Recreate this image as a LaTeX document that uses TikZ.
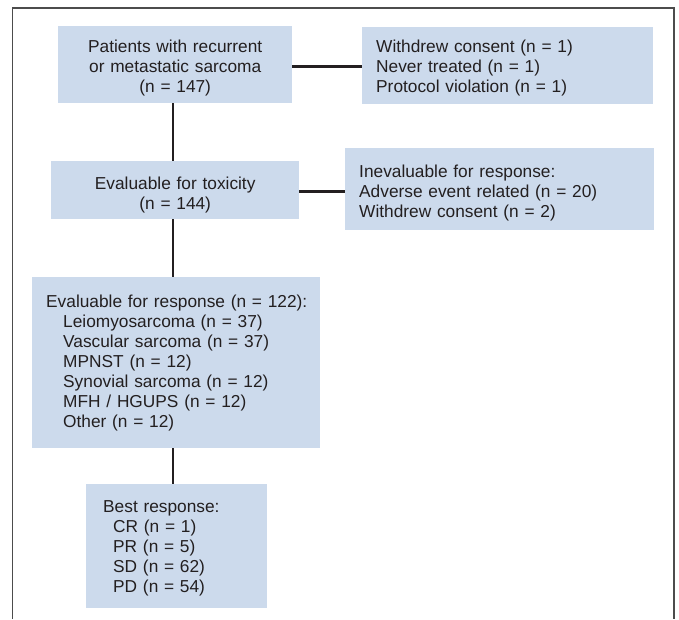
\documentclass[tikz,border=0pt]{standalone}
\usepackage{fontspec}
\setmainfont{Liberation Sans}
\definecolor{boxblue}{RGB}{204,218,236}
\definecolor{ink}{RGB}{35,31,32}
\newcommand{\toppad}[1]{\rule{0pt}{#1}}
\begin{document}
\begin{tikzpicture}[x=1pt,y=-1pt,
  box/.style={fill=boxblue, draw=none, anchor=north west, inner ysep=0pt,
    font=\fontsize{17.3}{20}\selectfont, text=ink},
  cbox/.style={box, align=center, inner xsep=0pt},
  lbox/.style={box, align=left},
  conn/.style={draw=ink, line width=2.8pt},
  frame/.style={draw=black!70, line width=1.8pt}]
\useasboundingbox (0,0) rectangle (679,619);
\draw[frame] (12.5,619) -- (12.5,8) -- (674,8) -- (674,619);

\node[cbox, text width=234pt, minimum height=77pt] (b1) at (58,26)
  {\toppad{19.5pt}Patients with recurrent\\or metastatic sarcoma\\(n = 147)};
\node[lbox, inner xsep=14pt, text width=263pt, minimum height=77pt] (b2) at (362,27)
  {\toppad{17.5pt}Withdrew consent (n = 1)\\Never treated (n = 1)\\Protocol violation (n = 1)};
\node[cbox, text width=248pt, minimum height=58pt] (b3) at (51,161)
  {\toppad{21.5pt}Evaluable for toxicity\\(n = 144)};
\node[lbox, inner xsep=14pt, text width=281pt, minimum height=82pt] (b4) at (345,148)
  {\toppad{20.5pt}Inevaluable for response:\\Adverse event related (n = 20)\\Withdrew consent (n = 2)};
\node[lbox, inner xsep=14pt, text width=260pt, minimum height=171pt] (b5) at (32,277)
  {\mbox{Evaluable for response (n = 122):}\\
   \hspace*{17pt}Leiomyosarcoma (n = 37)\\
   \hspace*{17pt}Vascular sarcoma (n = 37)\\
   \hspace*{17pt}MPNST (n = 12)\\
   \hspace*{17pt}Synovial sarcoma (n = 12)\\
   \hspace*{17pt}MFH / HGUPS (n = 12)\\
   \hspace*{17pt}Other (n = 12)};
\node[lbox, inner xsep=17pt, text width=147pt, minimum height=124pt] (b6) at (86,484)
  {\toppad{15.5pt}Best response:\\
   \hspace*{10pt}CR (n = 1)\\
   \hspace*{10pt}PR (n = 5)\\
   \hspace*{10pt}SD (n = 62)\\
   \hspace*{10pt}PD (n = 54)};

\coordinate (spine) at (173,0);
\draw[conn] (b1.south -| spine) -- (b3.north -| spine);
\draw[conn] (b3.south -| spine) -- (b5.north -| spine);
\draw[conn] (b5.south -| spine) -- (b6.north -| spine);
\draw[conn] ([yshift=-1.5pt]b1.east) -- ([yshift=-1.5pt]b1.east -| b2.west);
\draw[conn] ([yshift=-1pt]b3.east) -- ([yshift=-1pt]b3.east -| b4.west);
\end{tikzpicture}
\end{document}
